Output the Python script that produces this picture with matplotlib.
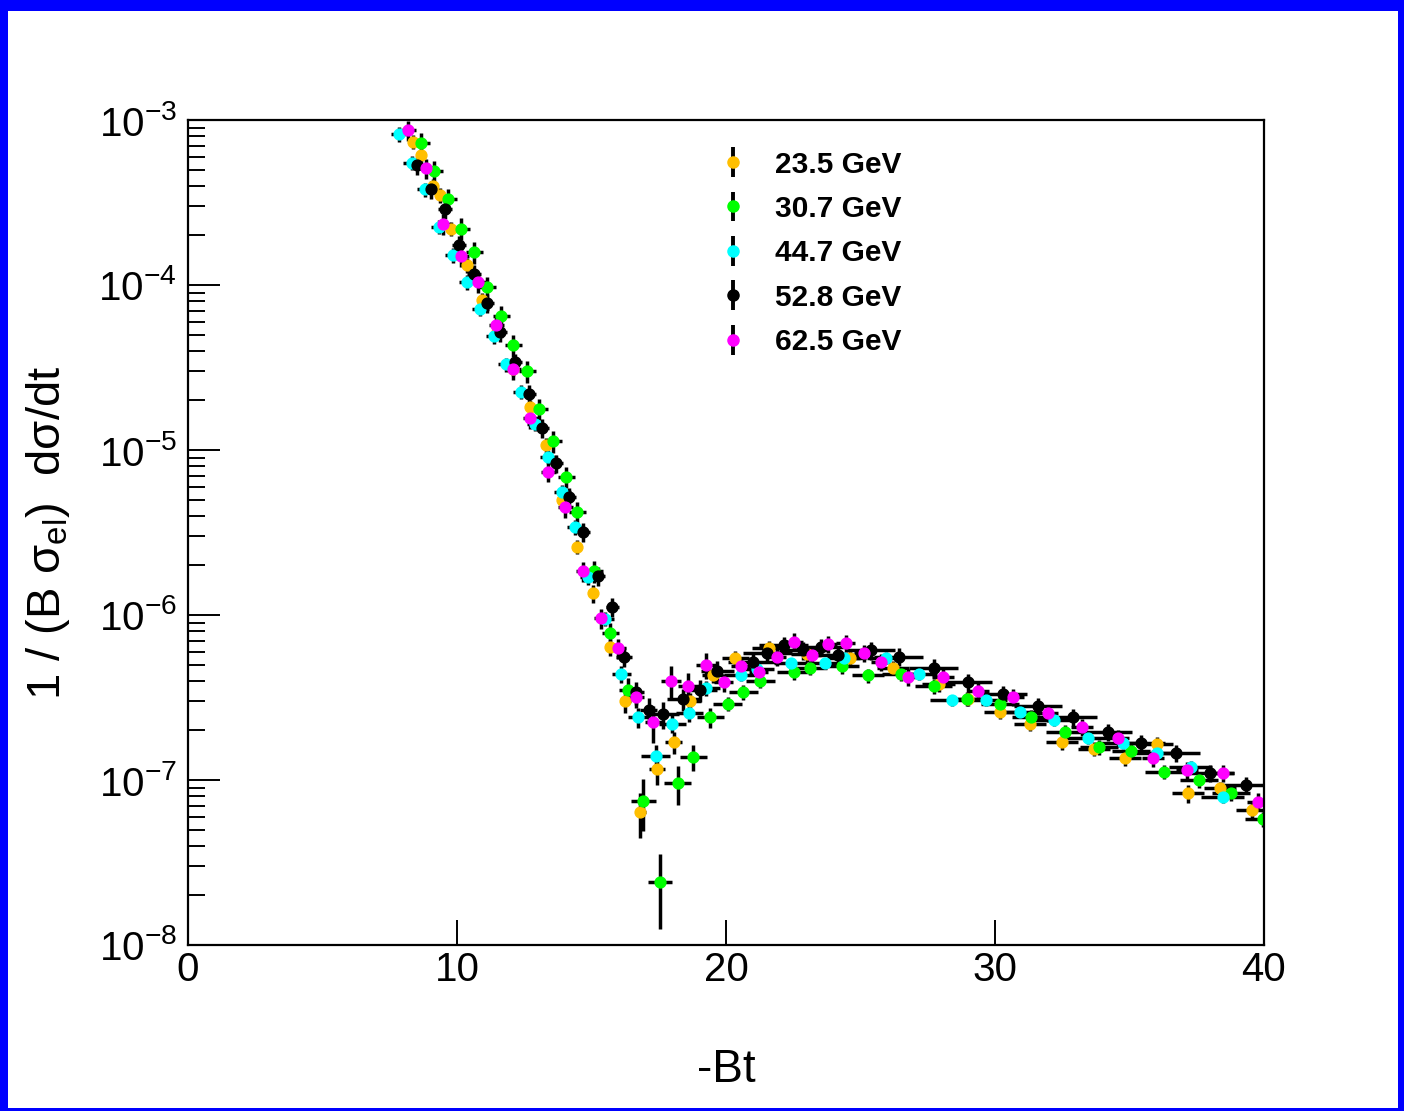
import numpy as np
import matplotlib
matplotlib.use('Agg')
import matplotlib.pyplot as plt
from matplotlib.patches import Rectangle
from matplotlib.container import ErrorbarContainer
from matplotlib.legend_handler import HandlerErrorbar
from matplotlib.ticker import LogLocator, NullLocator, NullFormatter

plt.rcParams['font.family'] = 'Liberation Sans'
plt.rcParams['mathtext.fontset'] = 'custom'
plt.rcParams['mathtext.rm'] = 'Liberation Sans'
plt.rcParams['mathtext.it'] = 'Liberation Sans:italic'
plt.rcParams['mathtext.bf'] = 'Liberation Sans:bold'

# ---- data: x = -Bt, y = 1/(B sigma_el) dsigma/dt ----
labels = ['23.5 GeV', '30.7 GeV', '44.7 GeV', '52.8 GeV', '62.5 GeV']
colors = ['#ffbf00', '#00ff00', '#00ffff', '#000000', '#ff00ff']

x_235 = [8.37, 8.67, 9.12, 9.38, 9.79, 10.38, 10.94, 11.5, 12.1, 12.73, 13.32, 13.9, 14.47, 15.07,
         15.67, 16.26, 16.82, 17.45, 18.05, 18.68, 19.5, 20.35, 21.58, 23.0, 24.6, 26.2, 27.9, 29.0,
         30.2, 31.3, 32.48, 33.67, 34.83, 36.02, 37.17, 38.36, 39.55]
y_235 = [7.4e-4, 6.1e-4, 4.0e-4, 3.5e-4, 2.2e-4, 1.32e-4, 8.1e-5, 5.2e-5, 3.1e-5, 1.82e-5, 1.07e-5,
         5.0e-6, 2.6e-6, 1.35e-6, 6.4e-7, 3.0e-7, 6.4e-8, 1.17e-7, 1.7e-7, 3.0e-7, 4.3e-7, 5.5e-7,
         6.3e-7, 5.8e-7, 5.5e-7, 4.8e-7, 3.8e-7, 3.1e-7, 2.6e-7, 2.2e-7, 1.7e-7, 1.55e-7, 1.35e-7,
         1.65e-7, 8.3e-8, 8.9e-8, 6.6e-8]
xe_235 = [0.1, 0.1, 0.1, 0.1, 0.1, 0.1, 0.1, 0.1, 0.1, 0.1, 0.1, 0.1, 0.1, 0.1, 0.1, 0.2, 0.2, 0.3,
          0.3, 0.4, 0.4, 0.5, 0.6, 0.6, 0.6, 0.6, 0.6, 0.6, 0.6, 0.6, 0.6, 0.6, 0.6, 0.6, 0.6, 0.6, 0.6]
ye_235 = [0.1, 0.1, 0.1, 0.1, 0.1, 0.1, 0.1, 0.1, 0.1, 0.1, 0.1, 0.1, 0.1, 0.12, 0.12,
          0.15, 0.3, 0.2, 0.15, 0.12, 0.1, 0.1, 0.1, 0.1, 0.1, 0.1, 0.1, 0.1, 0.1, 0.1, 0.1, 0.1,
          0.1, 0.1, 0.12, 0.1, 0.12]

x_307 = [8.67, 9.15, 9.67, 10.16, 10.64, 11.13, 11.65, 12.09, 12.61, 13.06, 13.58, 14.07, 14.47, 15.1,
         15.7, 16.37, 16.93, 17.56, 18.2, 18.79, 19.42, 20.06, 20.65, 21.28, 22.51, 23.14, 24.33,
         25.27, 26.49, 27.72, 28.95, 30.18, 31.33, 32.6, 33.86, 35.05, 36.28, 37.58, 38.77, 39.98]
y_307 = [7.3e-4, 4.9e-4, 3.3e-4, 2.2e-4, 1.58e-4, 9.7e-5, 6.5e-5, 4.3e-5, 3.0e-5, 1.78e-5, 1.13e-5,
         6.9e-6, 4.2e-6, 1.85e-6, 7.8e-7, 3.5e-7, 7.5e-8, 2.4e-8, 9.6e-8, 1.38e-7, 2.4e-7, 2.9e-7,
         3.4e-7, 4.0e-7, 4.5e-7, 4.8e-7, 4.9e-7, 4.3e-7, 4.4e-7, 3.7e-7, 3.1e-7, 2.9e-7, 2.4e-7,
         1.95e-7, 1.58e-7, 1.5e-7, 1.12e-7, 1.0e-7, 8.3e-8, 5.8e-8]
xe_307 = [0.32, 0.32, 0.32, 0.32, 0.32, 0.32, 0.32, 0.32, 0.32, 0.32, 0.32, 0.32, 0.32, 0.32, 0.32,
          0.35, 0.45, 0.45, 0.5, 0.5, 0.5, 0.55, 0.55, 0.55, 0.6, 0.6, 0.6, 0.6, 0.7, 0.7, 0.7, 0.7,
          0.7, 0.7, 0.7, 0.7, 0.7, 0.7, 0.7, 0.7]
ye_307 = [0.15, 0.15, 0.15, 0.15, 0.15, 0.15, 0.15, 0.15, 0.15, 0.15, 0.15, 0.15, 0.15, 0.15, 0.15,
          0.18, 0.35, 0.48, 0.27, 0.18, 0.14, 0.1, 0.1, 0.1, 0.1, 0.1, 0.1, 0.1, 0.1, 0.1,
          0.1, 0.1, 0.1, 0.1, 0.1, 0.1, 0.1, 0.1, 0.1, 0.1]

x_447 = [7.85, 8.33, 8.82, 9.34, 9.86, 10.38, 10.87, 11.39, 11.83, 12.39, 12.91, 13.4, 13.92, 14.4,
         14.88, 15.5, 16.11, 16.74, 17.38, 18.0, 18.64, 19.27, 20.54, 21.17, 22.4, 23.67, 24.37,
         25.93, 27.16, 28.39, 29.66, 30.92, 32.19, 33.45, 34.75, 36.02, 37.28, 38.47]
y_447 = [8.2e-4, 5.5e-4, 3.8e-4, 2.25e-4, 1.52e-4, 1.04e-4, 7.2e-5, 4.9e-5, 3.3e-5, 2.25e-5, 1.44e-5,
         9.1e-6, 5.6e-6, 3.4e-6, 1.7e-6, 9.5e-7, 4.4e-7, 2.4e-7, 1.4e-7, 2.2e-7, 2.55e-7, 3.6e-7,
         4.3e-7, 4.7e-7, 5.1e-7, 5.1e-7, 5.5e-7, 5.5e-7, 4.4e-7, 3.05e-7, 3.05e-7, 2.6e-7, 2.3e-7,
         1.8e-7, 1.68e-7, 1.46e-7, 1.2e-7, 7.9e-8]
xe_447 = [0.32, 0.32, 0.32, 0.32, 0.32, 0.32, 0.32, 0.32, 0.32, 0.32, 0.32, 0.32, 0.32, 0.32, 0.32,
          0.35, 0.35, 0.4, 0.55, 0.5, 0.5, 0.5, 0.6, 0.6, 0.6, 0.6, 0.6, 0.7, 0.7, 0.8, 0.8, 0.8,
          0.8, 0.8, 0.8, 0.8, 0.8, 0.8]
ye_447 = [0.1, 0.1, 0.1, 0.1, 0.1, 0.1, 0.1, 0.1, 0.1, 0.1, 0.1, 0.1, 0.1, 0.1, 0.1,
          0.1, 0.12, 0.14, 0.16, 0.13, 0.12, 0.1, 0.08, 0.08, 0.08, 0.08, 0.08, 0.08, 0.08, 0.08,
          0.08, 0.08, 0.08, 0.08, 0.08, 0.08, 0.08, 0.08]

x_528 = [8.52, 9.04, 9.56, 10.08, 10.64, 11.13, 11.61, 12.17, 12.69, 13.17, 13.69, 14.18, 14.7, 15.26,
         15.78, 16.22, 16.65, 17.12, 17.67, 18.42, 19.05, 19.68, 20.99, 21.54, 22.14, 22.88, 23.52,
         24.15, 25.38, 26.42, 27.72, 28.99, 30.29, 31.59, 32.89, 34.2, 35.42, 36.73, 37.98, 39.33]
y_528 = [5.3e-4, 3.8e-4, 2.9e-4, 1.75e-4, 1.17e-4, 7.8e-5, 5.2e-5, 3.4e-5, 2.2e-5, 1.36e-5, 8.3e-6,
         5.2e-6, 3.2e-6, 1.72e-6, 1.12e-6, 5.6e-7, 3.4e-7, 2.65e-7, 2.5e-7, 3.1e-7, 3.5e-7, 4.6e-7,
         5.2e-7, 5.9e-7, 6.6e-7, 6.1e-7, 6.4e-7, 5.7e-7, 6.1e-7, 5.6e-7, 4.8e-7, 3.9e-7, 3.3e-7,
         2.8e-7, 2.4e-7, 1.95e-7, 1.68e-7, 1.46e-7, 1.1e-7, 9.3e-8]
xe_528 = [0.25, 0.25, 0.25, 0.25, 0.25, 0.25, 0.25, 0.25, 0.25, 0.25, 0.25, 0.25, 0.25, 0.25, 0.25,
          0.3, 0.3, 0.3, 0.6, 0.6, 0.6, 0.6, 0.9, 0.9, 0.9, 0.9, 0.9, 0.9, 0.9, 0.9, 0.9, 0.9,
          0.9, 0.9, 0.9, 0.9, 0.9, 0.9, 0.9, 0.9]
ye_528 = [0.13, 0.13, 0.13, 0.13, 0.13, 0.13, 0.13, 0.13, 0.13, 0.13, 0.13, 0.13, 0.13, 0.13, 0.13,
          0.14, 0.16, 0.18, 0.18, 0.15, 0.15, 0.15, 0.12, 0.12, 0.12, 0.12, 0.12, 0.12, 0.12, 0.12,
          0.12, 0.12, 0.12, 0.12, 0.12, 0.12, 0.12, 0.12, 0.12, 0.12]

x_625 = [8.19, 8.86, 9.49, 10.16, 10.79, 11.46, 12.09, 12.73, 13.4, 14.03, 14.7, 15.37, 16.0, 16.67,
         17.3, 17.97, 18.6, 19.24, 19.91, 20.54, 21.21, 21.88, 22.51, 23.18, 23.78, 24.45, 25.12,
         25.75, 26.75, 28.06, 29.36, 30.66, 31.96, 33.23, 34.57, 35.87, 37.13, 38.47, 39.78]
y_625 = [8.7e-4, 5.1e-4, 2.35e-4, 1.5e-4, 1.04e-4, 5.7e-5, 3.1e-5, 1.56e-5, 7.4e-6, 4.5e-6, 1.85e-6,
         9.6e-7, 6.3e-7, 3.2e-7, 2.25e-7, 4.0e-7, 3.7e-7, 5.0e-7, 3.9e-7, 4.9e-7, 4.5e-7, 5.6e-7,
         6.9e-7, 5.7e-7, 6.7e-7, 6.8e-7, 5.9e-7, 5.2e-7, 4.2e-7, 4.2e-7, 3.45e-7, 3.2e-7, 2.55e-7,
         2.1e-7, 1.8e-7, 1.36e-7, 1.15e-7, 1.1e-7, 7.4e-8]
xe_625 = [0.28, 0.28, 0.28, 0.28, 0.28, 0.28, 0.28, 0.28, 0.28, 0.28, 0.28, 0.28, 0.28, 0.3, 0.32,
          0.37, 0.37, 0.37, 0.35, 0.35, 0.35, 0.35, 0.35, 0.35, 0.35, 0.35, 0.35, 0.35, 0.4, 0.4,
          0.4, 0.4, 0.4, 0.4, 0.4, 0.4, 0.4, 0.4, 0.4]
ye_625 = [0.14, 0.14, 0.14, 0.14, 0.14, 0.14, 0.14, 0.14, 0.14, 0.14, 0.14, 0.14, 0.14, 0.15, 0.25,
          0.22, 0.2, 0.18, 0.12, 0.12, 0.12, 0.12, 0.12, 0.12, 0.12, 0.12, 0.12, 0.12, 0.12, 0.12,
          0.12, 0.12, 0.12, 0.12, 0.12, 0.12, 0.12, 0.12, 0.12]

series = [(x_235, y_235, xe_235, ye_235), (x_307, y_307, xe_307, ye_307),
          (x_447, y_447, xe_447, ye_447), (x_528, y_528, xe_528, ye_528),
          (x_625, y_625, xe_625, ye_625)]

W, H = 1404, 1111
fig = plt.figure(figsize=(W / 100, H / 100), dpi=100)
ax = fig.add_axes([188 / W, 1 - 945 / H, 1076 / W, 825 / H])

for (x, y, xe, ye), c in zip(series, colors):
    y = np.array(y)
    ax.errorbar(x, y, xerr=xe, yerr=y * np.array(ye), fmt='o', color=c, mec=c, ms=7.8,
                ecolor='k', elinewidth=2.5, capsize=0)

ax.set_yscale('log')
ax.set_xlim(0, 40)
ax.set_ylim(1e-8, 1e-3)
ax.set_xticks([0, 10, 20, 30, 40])
ax.xaxis.set_minor_locator(NullLocator())
ax.yaxis.set_major_locator(LogLocator(base=10, numticks=10))
ax.yaxis.set_minor_locator(LogLocator(base=10, subs=np.arange(2, 10), numticks=20))
ax.yaxis.set_minor_formatter(NullFormatter())

for s in ax.spines.values():
    s.set_linewidth(1.6)
ax.tick_params(which='both', direction='in', top=False, right=False, width=1.4)
ax.tick_params(axis='y', which='major', length=23, labelsize=29, pad=8)
ax.tick_params(axis='y', which='minor', length=12)
ax.tick_params(axis='x', which='major', length=18, labelsize=29, pad=4)

ax.set_xlabel('-Bt', fontsize=33)
ax.xaxis.set_label_coords(0.5, -0.125)
ax.set_ylabel('1 / (B σ$_{\\mathrm{el}}$)  dσ/dt', fontsize=34)
ax.yaxis.set_label_coords(-0.108, 0.5)

# legend: markers with vertical error bar only
handles = []
for c in colors:
    h = ax.errorbar([np.nan], [np.nan], yerr=[1.0], fmt='o', color=c, mec=c, ms=8,
                    ecolor='k', elinewidth=2.8, capsize=0)
    handles.append(h)
ax.legend(handles, labels, loc='upper left', bbox_to_anchor=(0.4926, 0.963), frameon=False,
          prop={'weight': 'bold', 'size': 21.5}, handlelength=1.0, handletextpad=0.9,
          labelspacing=0.55, borderpad=0, borderaxespad=0, numpoints=1,
          handler_map={ErrorbarContainer: HandlerErrorbar(xerr_size=0.5, yerr_size=0.5)})

# blue frame around the canvas
for (x0, y0, w, h) in [(0, 0, 8, H), (0, 0, W, 11), (W - 6, 0, 6, H), (0, H - 3, W, 3)]:
    fig.add_artist(Rectangle((x0 / W, 1 - (y0 + h) / H), w / W, h / H,
                             transform=fig.transFigure, color='#0000ff', lw=0))

fig.savefig('out.png', dpi=100)
